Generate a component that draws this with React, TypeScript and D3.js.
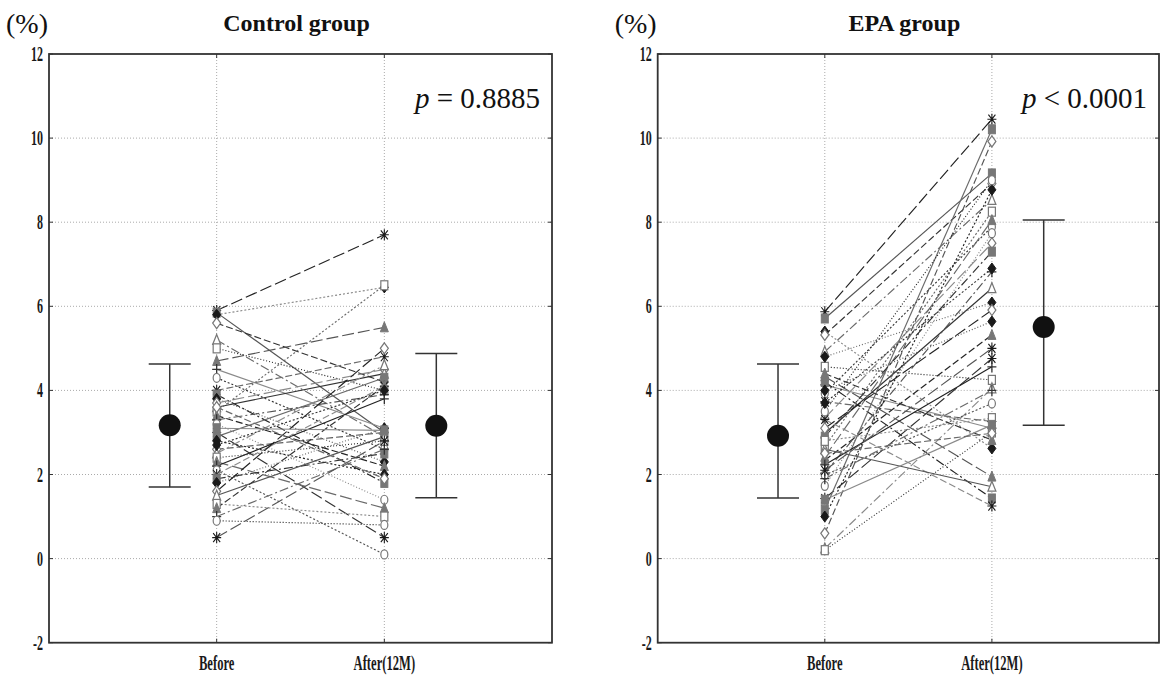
import React from 'react';
import * as d3 from 'd3';

// Category positions along x (Before = 1, After = 2 on a 0..3 domain)
const timepoints = ['Before', 'After(12M)'];
const yTicks = [-2, 0, 2, 4, 6, 8, 10, 12];

// Individual subjects, control group (%)
const controlBefore = [
  5.9, 5.85, 5.8, 5.6, 5.2, 5.0, 4.7, 4.5, 4.3, 4.0,
  3.9, 3.8, 3.7, 3.6, 3.5, 3.4, 3.3, 3.2, 3.0, 2.9,
  2.8, 2.6, 2.5, 2.4, 2.3, 2.2, 2.1, 2.0, 1.9, 1.8,
  1.6, 1.5, 1.3, 1.2, 1.0, 0.9, 0.5, 3.1, 2.7, 3.6,
];
const controlAfter = [
  7.7, 3.0, 6.45, 4.2, 2.9, 4.0, 5.5, 3.1, 2.6, 4.8,
  1.8, 2.3, 4.5, 4.4, 6.5, 2.2, 3.9, 1.4, 0.5, 4.3,
  2.0, 3.0, 4.6, 2.8, 1.2, 3.8, 0.1, 4.1, 2.5, 3.1,
  5.0, 2.9, 1.0, 4.1, 2.6, 0.8, 2.8, 3.05, 4.0, 1.9,
];

// Individual subjects, EPA group (%)
const epaBefore = [
  5.87, 5.71, 5.4, 5.32, 4.92, 4.56, 4.33, 4.13, 3.93, 3.73,
  4.2, 4.0, 3.34, 2.98, 2.66, 2.34, 2.03, 1.73, 1.43, 1.16,
  1.0, 0.6, 0.24, 0.2, 2.42, 2.23, 1.99, 3.31, 2.9, 4.8,
  3.1, 2.6, 2.8, 4.4, 1.9, 3.5, 2.1, 1.4, 3.7, 2.5,
];
const epaAfter = [
  10.45, 9.16, 2.62, 8.92, 8.53, 4.25, 1.95, 3.1, 7.89, 3.26,
  1.43, 5.64, 7.5, 6.43, 8.25, 5.32, 6.82, 7.74, 4.76, 10.21,
  8.77, 9.92, 4.05, 3.0, 8.05, 4.56, 3.69, 1.25, 7.3, 6.09,
  5.91, 1.71, 3.34, 2.82, 4.0, 9.0, 5.0, 3.18, 6.9, 2.98,
];

// Group summaries: [Before, After]
const controlMean = [3.17, 3.16];
const controlLow = [1.70, 1.45];
const controlHigh = [4.63, 4.88];
const epaMean = [2.92, 5.51];
const epaLow = [1.44, 3.17];
const epaHigh = [4.63, 8.05];

const titles = ['Control group', 'EPA group'];
const pRelations = ['=', '<'];
const pValues = ['0.8885', '0.0001'];

// Per-subject drawing styles, cycled
const markerTypes = ['star', 'sqFill', 'diaFill', 'diaOpen', 'triOpen', 'sqOpen', 'triFill', 'plus', 'circOpen'];
const lineColors = ['#222', '#555', '#8a8a8a', '#333', '#6a6a6a'];
const lineDashes = ['12,4', 'none', '2,2', '7,3', '9,3,2,3', '1,2'];

const TOP = 54;
const BOTTOM = 642.7;
const SQUEEZE = 0.6;

function Marker({ type, x, y }: { type: string; x: number; y: number }) {
  const g = '#777';
  const k = '#1a1a1a';
  switch (type) {
    case 'sqOpen':
      return <rect x={x - 3.5} y={y - 4.5} width={7} height={9} fill="#fff" stroke={g} strokeWidth={1.2} />;
    case 'sqFill':
      return <rect x={x - 3.5} y={y - 4.5} width={7} height={9} fill={g} stroke={g} strokeWidth={1} />;
    case 'diaFill':
      return <path d={`M${x},${y - 5.5}L${x + 4},${y}L${x},${y + 5.5}L${x - 4},${y}Z`} fill={k} stroke={k} />;
    case 'diaOpen':
      return <path d={`M${x},${y - 5.5}L${x + 4},${y}L${x},${y + 5.5}L${x - 4},${y}Z`} fill="#fff" stroke={g} strokeWidth={1.2} />;
    case 'triOpen':
      return <path d={`M${x},${y - 5.5}L${x + 4},${y + 4.5}L${x - 4},${y + 4.5}Z`} fill="#fff" stroke={g} strokeWidth={1.2} />;
    case 'triFill':
      return <path d={`M${x},${y - 5.5}L${x + 4},${y + 4.5}L${x - 4},${y + 4.5}Z`} fill={g} stroke={g} />;
    case 'star':
      return (
        <path
          d={`M${x - 4.5},${y}H${x + 4.5}M${x},${y - 5.5}V${y + 5.5}M${x - 3.5},${y - 4.5}L${x + 3.5},${y + 4.5}M${x - 3.5},${y + 4.5}L${x + 3.5},${y - 4.5}`}
          stroke={k}
          strokeWidth={1.1}
          fill="none"
        />
      );
    case 'plus':
      return <path d={`M${x - 4.5},${y}H${x + 4.5}M${x},${y - 5.5}V${y + 5.5}`} stroke="#333" strokeWidth={1.3} fill="none" />;
    default:
      return <ellipse cx={x} cy={y} rx={3.5} ry={4.5} fill="#fff" stroke={g} strokeWidth={1.2} />;
  }
}

function AxisText({ x, y, children, anchor = 'middle', size = 20 }: any) {
  return (
    <text
      transform={`translate(${x},${y}) scale(${SQUEEZE},1)`}
      textAnchor={anchor}
      fontFamily="'Liberation Serif', 'DejaVu Serif', serif"
      fontWeight="bold"
      fontSize={size}
      fill="#1a1a1a"
    >
      {children}
    </text>
  );
}

function Panel({
  x0, x1, title, before, after, mean, low, high, rel, pval,
}: {
  x0: number; x1: number; title: string; before: number[]; after: number[];
  mean: number[]; low: number[]; high: number[]; rel: string; pval: string;
}) {
  const x = d3.scaleLinear().domain([0, 3]).range([x0, x1]);
  const y = d3.scaleLinear().domain([-2, 12]).range([BOTTOM, TOP]);
  const catX = [1, 2];
  const meanX = [0.72, 2.31];
  const capHalf = 21;
  const line = d3.line<[number, number]>().x((d) => x(d[0])).y((d) => y(d[1]));

  return (
    <g>
      {/* unit and title */}
      <text x={x0 - 43} y={33} fontFamily="'Liberation Serif', serif" fontSize={28} fill="#111">(%)</text>
      <text x={(x0 + x1) / 2 - 4} y={31} textAnchor="middle" fontFamily="'Liberation Serif', serif" fontWeight="bold" fontSize={24} fill="#111">
        {title}
      </text>

      {/* grid */}
      {yTicks.filter((t) => t > -2 && t < 12).map((t) => (
        <line key={`gy${t}`} x1={x0} x2={x1} y1={y(t)} y2={y(t)} stroke="#aaa" strokeDasharray="1,2" />
      ))}
      {catX.map((c) => (
        <line key={`gx${c}`} x1={x(c)} x2={x(c)} y1={TOP} y2={BOTTOM} stroke="#aaa" strokeDasharray="1,2" />
      ))}

      {/* subject trajectories */}
      {before.map((b, i) => (
        <path
          key={`l${i}`}
          d={line([[1, b], [2, after[i]]]) || ''}
          fill="none"
          stroke={lineColors[i % lineColors.length]}
          strokeWidth={1.15}
          strokeDasharray={lineDashes[i % lineDashes.length]}
        />
      ))}
      {before.map((b, i) => (
        <g key={`m${i}`}>
          <Marker type={markerTypes[i % markerTypes.length]} x={x(1)} y={y(b)} />
          <Marker type={markerTypes[i % markerTypes.length]} x={x(2)} y={y(after[i])} />
        </g>
      ))}

      {/* group means with whiskers */}
      {meanX.map((mx, j) => (
        <g key={`s${j}`}>
          <line x1={x(mx)} x2={x(mx)} y1={y(low[j])} y2={y(high[j])} stroke="#333" strokeWidth={1.5} />
          <line x1={x(mx) - capHalf} x2={x(mx) + capHalf} y1={y(low[j])} y2={y(low[j])} stroke="#333" strokeWidth={1.5} />
          <line x1={x(mx) - capHalf} x2={x(mx) + capHalf} y1={y(high[j])} y2={y(high[j])} stroke="#333" strokeWidth={1.5} />
          <circle cx={x(mx)} cy={y(mean[j])} r={11} fill="#111" />
        </g>
      ))}

      {/* frame and inward ticks */}
      <rect x={x0} y={TOP} width={x1 - x0} height={BOTTOM - TOP} fill="none" stroke="#333" strokeWidth={1.8} />
      {yTicks.map((t) => (
        <g key={`ty${t}`}>
          <line x1={x0} x2={x0 + 4} y1={y(t)} y2={y(t)} stroke="#333" />
          <line x1={x1 - 4} x2={x1} y1={y(t)} y2={y(t)} stroke="#333" />
          <AxisText x={x0 - 6} y={y(t) + 7} anchor="end">{t}</AxisText>
        </g>
      ))}
      {catX.map((c, j) => (
        <g key={`tx${c}`}>
          <line x1={x(c)} x2={x(c)} y1={TOP} y2={TOP + 4} stroke="#333" />
          <line x1={x(c)} x2={x(c)} y1={BOTTOM - 4} y2={BOTTOM} stroke="#333" />
          <AxisText x={x(c)} y={670} size={21}>{timepoints[j]}</AxisText>
        </g>
      ))}

      {/* test result */}
      <text x={x1 - 12} y={108} textAnchor="end" fontFamily="'Liberation Serif', serif" fontSize={29} fill="#111">
        <tspan fontStyle="italic">p</tspan>
        <tspan> {rel} {pval}</tspan>
      </text>
    </g>
  );
}

export default function App() {
  return (
    <svg
      width={1161}
      height={679}
      style={{ position: 'absolute', left: 0, top: 0, background: '#fff' }}
    >
      <rect width={1161} height={679} fill="#fff" />
      <Panel
        x0={49} x1={552} title={titles[0]} before={controlBefore} after={controlAfter}
        mean={controlMean} low={controlLow} high={controlHigh} rel={pRelations[0]} pval={pValues[0]}
      />
      <Panel
        x0={657.7} x1={1159} title={titles[1]} before={epaBefore} after={epaAfter}
        mean={epaMean} low={epaLow} high={epaHigh} rel={pRelations[1]} pval={pValues[1]}
      />
    </svg>
  );
}
